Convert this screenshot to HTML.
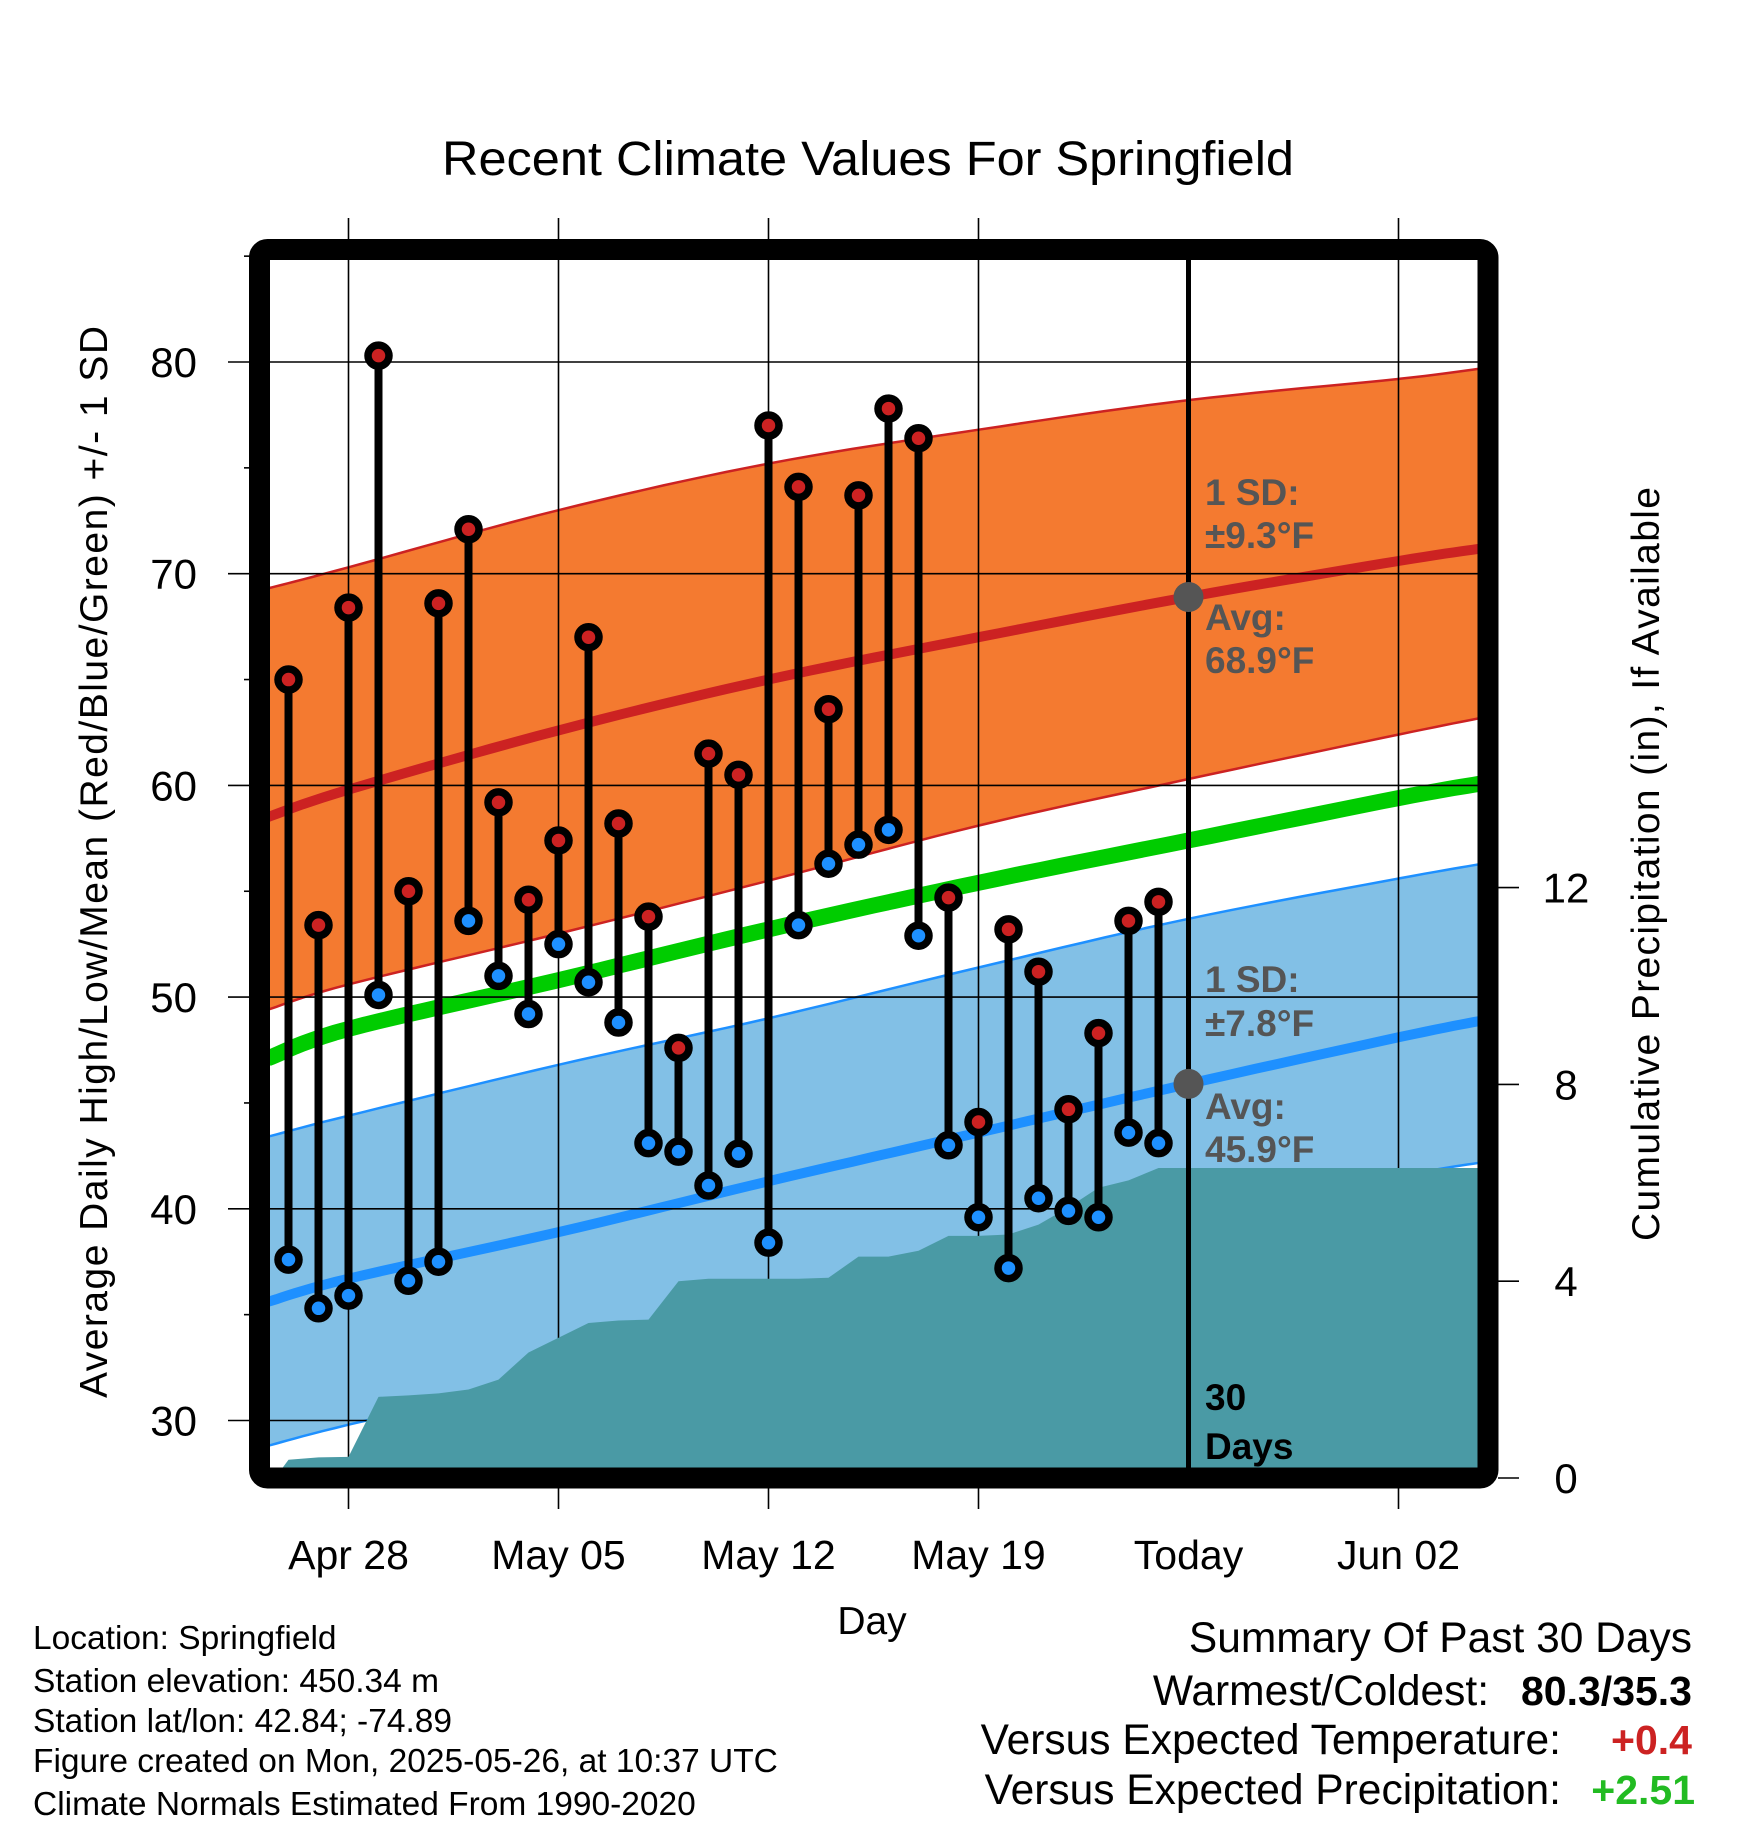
<!DOCTYPE html>
<html><head><meta charset="utf-8"><style>
body{margin:0;background:#fff;}
svg{display:block;font-family:"Liberation Sans",Arial,sans-serif;}
</style></head><body>
<svg id="chart" width="1748" height="1828" viewBox="0 0 1748 1828" xmlns="http://www.w3.org/2000/svg">
<defs><clipPath id="plotclip"><rect x="270" y="260" width="1208" height="1208"/></clipPath></defs>
<text x="868" y="175" font-size="48" text-anchor="middle" textLength="852" lengthAdjust="spacingAndGlyphs">Recent Climate Values For Springfield</text>
<g id="bands" clip-path="url(#plotclip)"></g>
<g id="grid"></g>
<g id="precip" clip-path="url(#plotclip)"></g>
<g id="marks"></g>
<g id="axes"></g>
<text transform="translate(107,862) rotate(-90)" font-size="39" text-anchor="middle" textLength="1072">Average Daily High/Low/Mean (Red/Blue/Green) +/- 1 SD</text>
<text transform="translate(1659,864) rotate(-90)" font-size="39" text-anchor="middle" textLength="754">Cumulative Precipitation (in), If Available</text>
<text x="872" y="1634" font-size="39" text-anchor="middle">Day</text>
<g font-size="33.5">
<text x="33" y="1649">Location: Springfield</text>
<text x="33" y="1692">Station elevation: 450.34 m</text>
<text x="33" y="1732">Station lat/lon: 42.84; -74.89</text>
<text x="33" y="1772">Figure created on Mon, 2025-05-26, at 10:37 UTC</text>
<text x="33" y="1815">Climate Normals Estimated From 1990-2020</text>
</g>
<g font-size="42.5">
<text x="1692" y="1652" text-anchor="end">Summary Of Past 30 Days</text>
<text x="1489" y="1705" text-anchor="end">Warmest/Coldest:</text>
<text x="1692" y="1705" text-anchor="end" font-weight="bold" font-size="41">80.3/35.3</text>
<text x="1561" y="1754" text-anchor="end">Versus Expected Temperature:</text>
<text x="1692" y="1754" text-anchor="end" font-weight="bold" font-size="41" fill="#cc2222">+0.4</text>
<text x="1561" y="1804" text-anchor="end">Versus Expected Precipitation:</text>
<text x="1695" y="1804" text-anchor="end" font-weight="bold" font-size="41" fill="#22bb22">+2.51</text>
</g>
</svg>
<script>
// data
const dayOffsets = [-2,-1,0,1,2,3,4,5,6,7,8,9,10,11,12,13,14,15,16,17,18,19,20,21,22,23,24,25,26,27];
const highs = [65.0,53.4,68.4,80.3,55.0,68.6,72.1,59.2,54.6,57.4,67.0,58.2,53.8,47.6,61.5,60.5,77.0,74.1,63.6,73.7,77.8,76.4,54.7,44.1,53.2,51.2,44.7,48.3,53.6,54.5];
const lows = [37.6,35.3,35.9,50.1,36.6,37.5,53.6,51.0,49.2,52.5,50.7,48.8,43.1,42.7,41.1,42.6,38.4,53.4,56.3,57.2,57.9,52.9,43.0,39.6,37.2,40.5,39.9,39.6,43.6,43.1];
const precipCum = [0.37,0.42,0.43,1.65,1.68,1.72,1.8,2.0,2.55,2.85,3.15,3.2,3.22,4.0,4.05,4.05,4.05,4.05,4.07,4.5,4.5,4.62,4.92,4.92,4.95,5.15,5.5,5.9,6.05,6.3];
const normDays = [-2.7,0,7,14,21,28,35,37.8];
const highUpper = [69.3,70.3,73.0,75.2,76.8,78.2,79.2,79.7];
const highAvg = [58.5,59.8,62.6,65.0,67.0,68.9,70.6,71.2];
const highLower = [49.4,50.6,53.0,55.5,58.1,60.3,62.4,63.2];
const meanAvg = [47.1,48.5,50.8,53.2,55.4,57.4,59.4,60.1];
const lowUpper = [43.4,44.4,46.8,49.0,51.4,53.7,55.6,56.3];
const lowAvg = [35.6,36.7,38.9,41.3,43.6,45.9,48.1,48.9];
const lowLower = [28.8,29.8,32.1,34.3,36.6,39.2,41.5,42.2];
const xTickDays = [0,7,14,21,28,35];
const xTickLabels = ["Apr 28","May 05","May 12","May 19","Today","Jun 02"];
const yTicks = [30,40,50,60,70,80];
const y2Ticks = [0,4,8,12];
const todayDay = 28;

const NS="http://www.w3.org/2000/svg";
const X=d=>348.5+30*d;
const Y=v=>362+(80-v)*21.17;
const P=v=>1478-v*49.2;
function mk(tag,attrs,parent){const e=document.createElementNS(NS,tag);for(const k in attrs)e.setAttribute(k,attrs[k]);parent.appendChild(e);return e;}
const bands=document.getElementById('bands'),grid=document.getElementById('grid'),precip=document.getElementById('precip'),marks=document.getElementById('marks'),axes=document.getElementById('axes');
function smoothPts(arr){
  const p=normDays.map((d,i)=>[X(d),Y(arr[i])]);
  const out=[];
  for(let i=0;i<p.length-1;i++){
    const p0=p[Math.max(0,i-1)],p1=p[i],p2=p[i+1],p3=p[Math.min(p.length-1,i+2)];
    for(let s=0;s<10;s++){
      const t=s/10,t2=t*t,t3=t2*t;
      const f=(a,b,c,d)=>0.5*((2*b)+(-a+c)*t+(2*a-5*b+4*c-d)*t2+(-a+3*b-3*c+d)*t3);
      out.push(f(p0[0],p1[0],p2[0],p3[0]).toFixed(1)+','+f(p0[1],p1[1],p2[1],p3[1]).toFixed(1));
    }
  }
  const l=p[p.length-1];out.push(l[0].toFixed(1)+','+l[1].toFixed(1));
  return out;
}
function band(up,lo,fill,name){
  const p=smoothPts(up).concat(smoothPts(lo).reverse()).join(' ');
  const e=mk('polygon',{points:p,fill:fill},bands);
  
  
}
function line(arr,color,w,name){
  const e=mk('polyline',{points:smoothPts(arr).join(' '),fill:'none',stroke:color,'stroke-width':w},bands);
  
  
}
band(highUpper,highLower,'#f47a30','high-sd-band');
line(highUpper,'#cc2222',2.5,'high-upper-line');
line(highLower,'#cc2222',2.5,'high-lower-line');
band(lowUpper,lowLower,'#82c0e6','low-sd-band');
line(lowUpper,'#1e90ff',2.5,'low-upper-line');
line(lowLower,'#1e90ff',2.5,'low-lower-line');
line(highAvg,'#cc2222',10,'high-avg-line');
line(meanAvg,'#00cc00',16,'mean-avg-line');
line(lowAvg,'#1e90ff',10,'low-avg-line');

yTicks.forEach(v=>{
  const e=mk('line',{x1:228,x2:1478,y1:Y(v),y2:Y(v),stroke:'#000','stroke-width':1.6},grid);
  
  
  const t=mk('text',{x:197,y:Y(v)+15,'font-size':42,'text-anchor':'end'},grid);
  t.textContent=v;
  
  
});
[35,45,55,65,75,85].forEach(v=>{
  const e=mk('line',{x1:244,x2:260,y1:Y(v),y2:Y(v),stroke:'#000','stroke-width':1.6},grid);
  
  
});
xTickDays.forEach((d,i)=>{
  if(d!==todayDay){
    const e=mk('line',{x1:X(d),x2:X(d),y1:218,y2:1509,stroke:'#000','stroke-width':1.6},grid);
    
    
  }
  const t=mk('text',{x:X(d),y:1569,'font-size':41,'text-anchor':'middle'},axes);
  t.textContent=xTickLabels[i];
  
  
});

{
  let p=[X(-2.45)+','+P(0)];
  dayOffsets.forEach((d,i)=>p.push(X(d)+','+P(precipCum[i])));
  p.push('1480,'+P(precipCum[precipCum.length-1]));
  p.push('1480,1480');p.push(X(-2.45)+',1480');
  const e=mk('polygon',{points:p.join(' '),fill:'#4a9aa5'},precip);
  
  
}

{
  const e=mk('line',{x1:X(todayDay),x2:X(todayDay),y1:260,y2:1478,stroke:'#000','stroke-width':5},marks);
  
  
}
[[highAvg[5],'high-avg-dot'],[lowAvg[5],'low-avg-dot']].forEach(a=>{
  const e=mk('circle',{cx:X(todayDay),cy:Y(a[0]),r:15,fill:'#555'},marks);
  
  
});

{
  const e=mk('rect',{x:259.5,y:249.5,width:1228.5,height:1228.5,rx:8,fill:'none',stroke:'#000','stroke-width':21},marks);
  
  
}

dayOffsets.forEach((d,i)=>{
  const g=mk('g',{},marks);
  
  
  mk('line',{x1:X(d),x2:X(d),y1:Y(highs[i]),y2:Y(lows[i]),stroke:'#000','stroke-width':8},g);
  const h=mk('circle',{cx:X(d),cy:Y(highs[i]),r:10.5,fill:'#cc2222',stroke:'#000','stroke-width':7.5},g);
  
  
  const l=mk('circle',{cx:X(d),cy:Y(lows[i]),r:10.5,fill:'#1e90ff',stroke:'#000','stroke-width':7.5},g);
  
  
});

y2Ticks.forEach(v=>{
  const e=mk('line',{x1:1498,x2:1519,y1:P(v),y2:P(v),stroke:'#000','stroke-width':1.6},axes);
  
  
  const t=mk('text',{x:1566,y:P(v)+15,'font-size':42,'text-anchor':'middle'},axes);
  t.textContent=v;
  
  
});

const ann=[['1 SD:',505,'#555'],['\u00b19.3\u00b0F',548,'#555'],['Avg:',630,'#555'],['68.9\u00b0F',673,'#555'],
['1 SD:',992,'#555'],['\u00b17.8\u00b0F',1036,'#555'],['Avg:',1119,'#555'],['45.9\u00b0F',1162,'#555'],
['30',1410,'#000'],['Days',1459,'#000']];
ann.forEach(a=>{
  const t=mk('text',{x:1205,y:a[1],'font-size':37,'font-weight':'bold',fill:a[2]},axes);
  t.textContent=a[0];
  
  
});
</script>
</body></html>
